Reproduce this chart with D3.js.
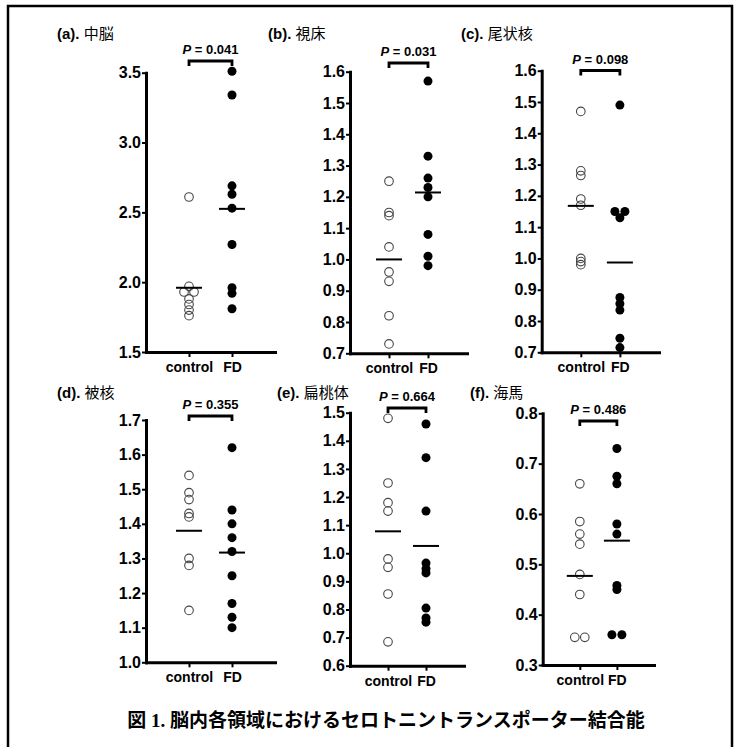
<!DOCTYPE html>
<html>
<head>
<meta charset="utf-8">
<script src="https://cdn.jsdelivr.net/npm/d3@7"></script>
<style>
body { margin: 0; background: #fff; }
text { font-family: "Liberation Sans", Arial, sans-serif; }
</style>
</head>
<body>
<svg id="svg"></svg>
<script>
var width = 738, height = 747;

// data
var groups = ["control", "FD"];
var letters = ["(a). ", "(b). ", "(c). ", "(d). ", "(e). ", "(f). "];
var regions = ["中脳", "視床", "尾状核", "被核", "扁桃体", "海馬"];
var pValues = ["0.041", "0.031", "0.098", "0.355", "0.664", "0.486"];
var yDomains = [[1.5, 3.5], [0.7, 1.6], [0.7, 1.6], [1.0, 1.7], [0.6, 1.5], [0.3, 0.8]];
var yTicks = [
	[1.5, 2.0, 2.5, 3.0, 3.5],
	[0.7, 0.8, 0.9, 1.0, 1.1, 1.2, 1.3, 1.4, 1.5, 1.6],
	[0.7, 0.8, 0.9, 1.0, 1.1, 1.2, 1.3, 1.4, 1.5, 1.6],
	[1.0, 1.1, 1.2, 1.3, 1.4, 1.5, 1.6, 1.7],
	[0.6, 0.7, 0.8, 0.9, 1.0, 1.1, 1.2, 1.3, 1.4, 1.5],
	[0.3, 0.4, 0.5, 0.6, 0.7, 0.8]
];
var controlValues = [
	[2.61, 1.97, 1.93, 1.93, 1.88, 1.84, 1.80, 1.76],
	[1.25, 1.15, 1.14, 1.04, 0.96, 0.93, 0.82, 0.73],
	[1.47, 1.28, 1.265, 1.19, 1.17, 1.00, 0.99, 0.98],
	[1.54, 1.49, 1.47, 1.43, 1.42, 1.30, 1.28, 1.15],
	[1.48, 1.25, 1.18, 1.15, 0.98, 0.95, 0.855, 0.685],
	[0.66, 0.585, 0.56, 0.54, 0.48, 0.44, 0.355, 0.355]
];
var fdValues = [
	[3.51, 3.34, 2.69, 2.63, 2.53, 2.27, 1.96, 1.92, 1.81],
	[1.57, 1.33, 1.26, 1.23, 1.20, 1.08, 1.01, 0.98],
	[1.49, 1.15, 1.15, 1.13, 0.875, 0.855, 0.835, 0.745, 0.715],
	[1.62, 1.44, 1.40, 1.36, 1.32, 1.25, 1.17, 1.13, 1.10],
	[1.46, 1.34, 1.15, 0.965, 0.945, 0.93, 0.805, 0.77, 0.755],
	[0.73, 0.675, 0.66, 0.58, 0.56, 0.458, 0.45, 0.36, 0.36]
];
var controlMeans = [1.96, 1.0, 1.168, 1.38, 1.078, 0.477];
var fdMeans = [2.525, 1.214, 0.987, 1.317, 1.026, 0.547];

// panel placement on the page
var layout = [
	{left: 146, right: 275, top: 72.7, bottom: 352, bracket: 61, tx: 57, ty: 39},
	{left: 350, right: 467, top: 71.7, bottom: 353.3, bracket: 63, tx: 268, ty: 39},
	{left: 541.7, right: 659, top: 70.7, bottom: 352.3, bracket: 70.5, tx: 461, ty: 39},
	{left: 146, right: 275, top: 420, bottom: 662.3, bracket: 416, tx: 57, ty: 398},
	{left: 350, right: 464, top: 412.7, bottom: 665.7, bracket: 408, tx: 277, ty: 398},
	{left: 542.7, right: 654, top: 413.3, bottom: 665, bracket: 421, tx: 470, ty: 398}
];

var svg = d3.select("#svg")
	.attr("width", width)
	.attr("height", height);

svg.append("rect")
	.attr("x", 8).attr("y", 6)
	.attr("width", 724).attr("height", 800)
	.attr("fill", "none")
	.attr("stroke", "#000")
	.attr("stroke-width", 2.5);

// spread points that sit on the same value side by side
function dodge(values, y, cx)
{
	var sorted = values.slice().sort(d3.descending);
	var out = [], i = 0;
	while (i < sorted.length) {
		var j = i;
		while (j + 1 < sorted.length && Math.abs(y(sorted[j + 1]) - y(sorted[i])) < 2) j++;
		var n = j - i + 1;
		for (var k = i; k <= j; k++)
			out.push({v: sorted[k], x: cx + (k - i - (n - 1) / 2) * 10});
		i = j + 1;
	}
	return out;
}

for (var i = 0; i < 6; i++) plot(i);

function plot(i)
{
	var L = layout[i];
	var g = svg.append("g");
	var x = d3.scalePoint()
		.domain(groups)
		.range([L.left, L.right])
		.padding(1);
	var y = d3.scaleLinear()
		.domain(yDomains[i])
		.range([L.bottom, L.top]);

	var yAxis = d3.axisLeft(y)
		.tickValues(yTicks[i])
		.tickFormat(d3.format(".1f"))
		.tickSize(4)
		.tickSizeOuter(0)
		.tickPadding(1);
	var xAxis = d3.axisBottom(x)
		.tickSize(5)
		.tickSizeOuter(0)
		.tickPadding(5);

	var ya = g.append("g")
		.attr("transform", "translate(" + L.left + ",0)")
		.call(yAxis);
	ya.selectAll("text")
		.style("font-size", "16px")
		.style("font-weight", "bold")
		.attr("fill", "#000");
	var xa = g.append("g")
		.attr("transform", "translate(0," + L.bottom + ")")
		.call(xAxis);
	xa.selectAll("text")
		.style("font-size", "14px")
		.style("font-weight", "bold")
		.attr("fill", "#000");
	g.selectAll(".domain")
		.attr("stroke", "#000")
		.attr("stroke-width", 3)
		.attr("stroke-linecap", "square");
	g.selectAll(".tick line")
		.attr("stroke", "#000")
		.attr("stroke-width", 2);

	var ctrl = dodge(controlValues[i], y, x("control"));
	var fd = dodge(fdValues[i], y, x("FD"));
	g.selectAll(".ctrl")
		.data(ctrl)
		.enter()
		.append("circle")
		.attr("class", "ctrl")
		.attr("cx", function(d) { return d.x; })
		.attr("cy", function(d) { return y(d.v); })
		.attr("r", 4.3)
		.attr("fill", "none")
		.attr("stroke", "#444")
		.attr("stroke-width", 1.1);
	g.selectAll(".fd")
		.data(fd)
		.enter()
		.append("circle")
		.attr("class", "fd")
		.attr("cx", function(d) { return d.x; })
		.attr("cy", function(d) { return y(d.v); })
		.attr("r", 4.5)
		.attr("fill", "#000");

	var means = [controlMeans[i], fdMeans[i]];
	g.selectAll(".mean")
		.data(means)
		.enter()
		.append("line")
		.attr("x1", function(d, k) { return x(groups[k]) - 13; })
		.attr("x2", function(d, k) { return x(groups[k]) + 13; })
		.attr("y1", function(d) { return y(d); })
		.attr("y2", function(d) { return y(d); })
		.attr("stroke", "#000")
		.attr("stroke-width", 2);

	var x0 = x("control"), x1 = x("FD");
	g.append("path")
		.attr("d", "M" + x0 + "," + (L.bracket + 5) + "V" + L.bracket + "H" + x1 + "V" + (L.bracket + 5))
		.attr("fill", "none")
		.attr("stroke", "#000")
		.attr("stroke-width", 2.8);
	var pt = g.append("text")
		.attr("x", (x0 + x1) / 2)
		.attr("y", L.bracket - 7)
		.attr("text-anchor", "middle")
		.style("font-size", "13px")
		.style("font-weight", "bold");
	pt.append("tspan").style("font-style", "italic").text("P");
	pt.append("tspan").text(" = " + pValues[i]);

	var tt = g.append("text")
		.attr("x", L.tx)
		.attr("y", L.ty)
		.style("font-size", "15px");
	tt.append("tspan").style("font-weight", "bold").text(letters[i]);
	tt.append("tspan").style("font-family", "'Noto Sans CJK JP'").text(regions[i]);
}

var cap = svg.append("text")
	.attr("x", 386)
	.attr("y", 727)
	.attr("text-anchor", "middle")
	.style("font-size", "19px")
	.style("font-weight", "bold");
cap.append("tspan").style("font-family", "'Noto Sans CJK JP'").text("図");
cap.append("tspan").style("font-family", "'Liberation Serif', serif").text(" 1. ");
cap.append("tspan").style("font-family", "'Noto Sans CJK JP'").text("脳内各領域におけるセロトニントランスポーター結合能");
</script>
</body>
</html>
